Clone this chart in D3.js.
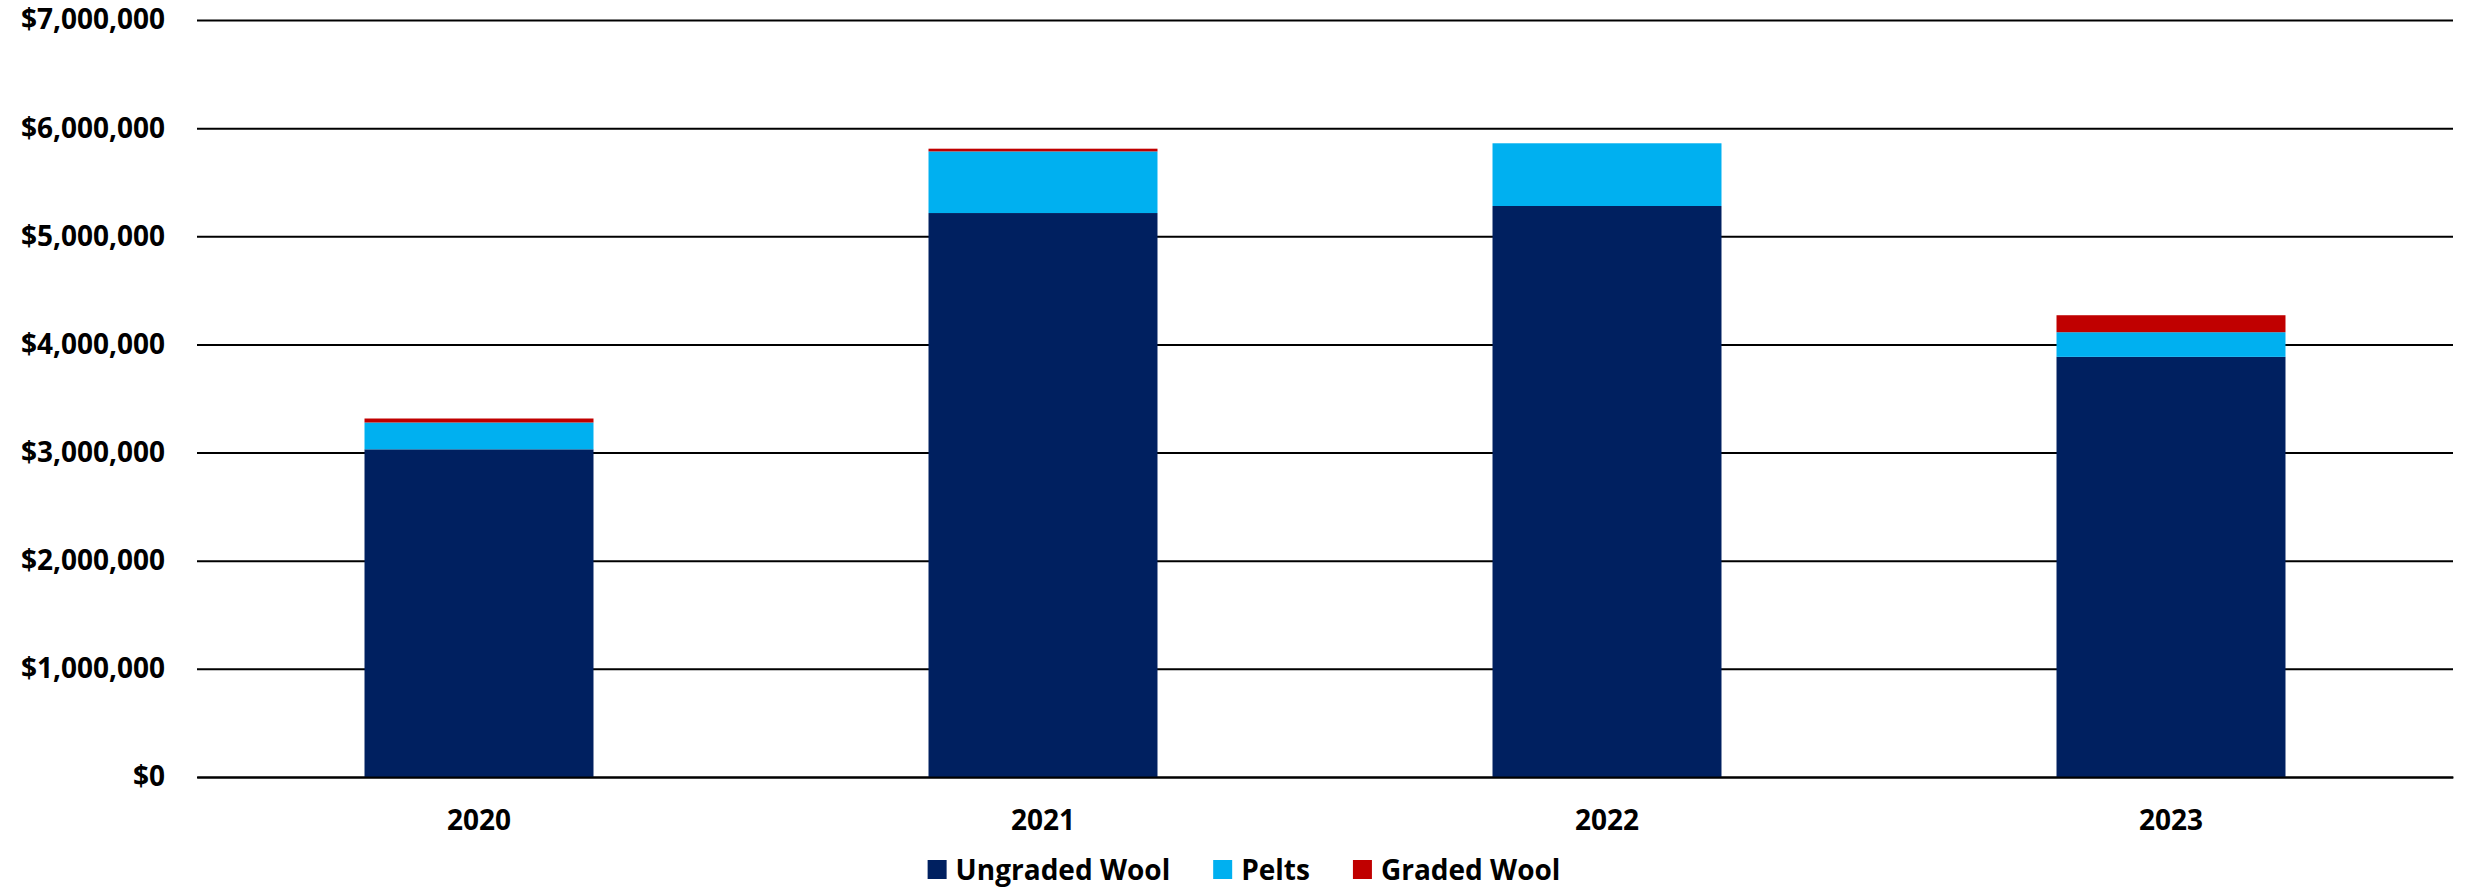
<!DOCTYPE html>
<html>
<head>
<meta charset="utf-8">
<script src="https://cdn.jsdelivr.net/npm/d3@7"></script>
<style>
  body { margin: 0; background: #fff; }
  svg text { font-family: "Open Sans", sans-serif; font-weight: 700; fill: #000; }
</style>
</head>
<body>
<svg id="chart" width="2473" height="891"></svg>
<script>
const years = ["2020", "2021", "2022", "2023"];
const seriesNames = ["Ungraded Wool", "Pelts", "Graded Wool"];
const ungradedWool = [3030000, 5215000, 5280000, 3885000];
const pelts = [248000, 570000, 580000, 228000];
const gradedWool = [37000, 25000, 0, 157000];
const yTicks = [0, 1000000, 2000000, 3000000, 4000000, 5000000, 6000000, 7000000];
const colors = ["#002060", "#00B0F0", "#C00000"];

const svg = d3.select("#chart");
const margin = { top: 20, right: 20, bottom: 114, left: 197 };
const width = +svg.attr("width") - margin.left - margin.right;
const height = +svg.attr("height") - margin.top - margin.bottom;

const g = svg.append("g").attr("transform", `translate(${margin.left},${margin.top})`);

const rows = years.map((year, i) => ({
  year,
  "Ungraded Wool": ungradedWool[i],
  "Pelts": pelts[i],
  "Graded Wool": gradedWool[i],
}));
const stacked = d3.stack().keys(seriesNames)(rows);

const x = d3.scaleBand().domain(years).range([0, width]).paddingInner(0.594).paddingOuter(0.297);
const y = d3.scaleLinear().domain([0, 7000000]).range([height, 0]);
const color = d3.scaleOrdinal(seriesNames, colors);

//Gridlines + y labels
const yAxis = g.append("g")
  .call(d3.axisLeft(y).tickValues(yTicks).tickFormat(d3.format("$,")).tickSize(-width).tickPadding(32));
yAxis.select(".domain").remove();
yAxis.selectAll(".tick line").attr("stroke", "#000").attr("stroke-width", 2);
yAxis.selectAll(".tick text").style("font-size", "28px");

//Stacked bars
g.append("g")
  .selectAll("g")
  .data(stacked)
  .join("g")
  .attr("fill", (d) => color(d.key))
  .selectAll("rect")
  .data((d) => d)
  .join("rect")
  .attr("x", (d) => x(d.data.year))
  .attr("width", x.bandwidth())
  .attr("y", (d) => y(d[1]))
  .attr("height", (d) => y(d[0]) - y(d[1]));

//Baseline + x labels
const xAxis = g.append("g")
  .attr("transform", `translate(0,${height})`)
  .call(d3.axisBottom(x).tickSize(0).tickPadding(33));
xAxis.select(".domain").attr("stroke", "#000").attr("stroke-width", 2);
xAxis.selectAll(".tick text").style("font-size", "28px");

//Legend
const legend = svg.append("g").attr("transform", "translate(0,870)");
const items = legend.selectAll("g").data(seriesNames).join("g");
items.append("rect")
  .attr("width", 19).attr("height", 19).attr("y", -10)
  .attr("fill", (d) => color(d));
items.append("text")
  .attr("x", 28).attr("dy", "0.35em")
  .style("font-size", "28px")
  .text((d) => d);
let offset = 0;
items.each(function () {
  const w = 28 + d3.select(this).select("text").node().getComputedTextLength();
  d3.select(this).attr("transform", `translate(${offset},0)`);
  offset += w + 43;
});
const legendWidth = offset - 43;
legend.attr("transform", `translate(${1244 - legendWidth / 2},870)`);
</script>
</body>
</html>
